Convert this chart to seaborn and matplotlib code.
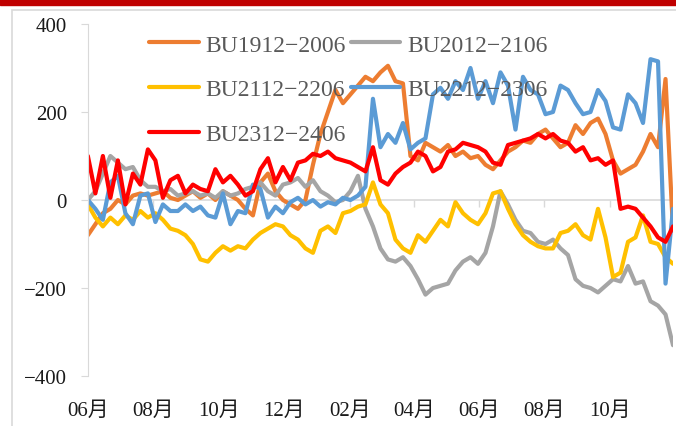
import pandas as pd
import numpy as np
import seaborn as sns
import matplotlib.pyplot as plt
import matplotlib.dates as mdates
from matplotlib.patches import Rectangle


# weekly spread readings, Jun -> Nov of the following year
dates = pd.date_range('2022-06-01', periods=79, freq='7D')

names = ['BU1912\u22122006', 'BU2012\u22122106', 'BU2112\u22122206',
         'BU2212\u22122306', 'BU2312\u22122406']
colors = ['#ED7D31', '#A5A5A5', '#FFC000', '#5B9BD5', '#FF0000']

bu1912 = [-80, -55, -30, -20, 0, -10, 10, 15, 10, 15,
          20, 5, 0, 10, 20, 5, 15, 0, 20, 10,
          0, -20, -35, 40, 60, 20, 0, -10, -20, 0,
          80, 150, 200, 250, 220, 240, 260, 280, 270, 290,
          305, 270, 265, 100, 90, 130, 120, 110, 125, 100,
          110, 95, 100, 80, 70, 90, 110, 120, 135, 130,
          150, 160, 140, 120, 130, 170, 150, 175, 185, 150,
          90, 60, 70, 80, 110, 150, 120, 275, -70]

bu2012 = [0, 20, 60, 100, 85, 70, 75, 45, 30, 30,
          20, 25, 10, 15, 20, 10, 15, 5, 20, 10,
          15, 25, 30, 40, 20, 10, 35, 40, 50, 30,
          45, 20, 10, -5, 0, 20, 55, -20, -60, -110,
          -135, -140, -130, -150, -180, -215, -200, -195, -190, -160,
          -140, -130, -145, -120, -60, 20, -10, -45, -70, -75,
          -95, -100, -90, -110, -125, -180, -195, -200, -210, -195,
          -180, -185, -150, -190, -185, -230, -240, -260, -330]

bu2112 = [-10, -40, -60, -40, -55, -35, -45, -25, -40, -30,
          -45, -65, -70, -80, -100, -135, -140, -120, -105, -115,
          -105, -110, -90, -75, -65, -55, -60, -80, -90, -110,
          -120, -70, -60, -75, -30, -25, -15, -10, 40, -10,
          -30, -90, -110, -120, -80, -95, -70, -45, -60, -5,
          -30, -45, -55, -30, 15, 20, -20, -55, -80, -95,
          -105, -110, -110, -75, -70, -55, -80, -90, -20, -85,
          -175, -165, -95, -85, -35, -95, -100, -130, -145]

bu2212 = [0, -20, -45, 40, 55, -30, -55, 10, 15, -50,
          -10, -25, -25, -10, -25, -15, -35, -40, 15, -55,
          -25, -30, 35, 25, -40, -15, -30, -5, 5, -10,
          0, -15, -5, -10, 5, 0, 10, 30, 230, 120,
          150, 130, 175, 115, 130, 140, 240, 255, 230, 270,
          250, 300, 230, 270, 220, 290, 260, 160, 280, 250,
          240, 195, 200, 260, 250, 220, 195, 200, 250, 225,
          165, 160, 240, 220, 175, 320, 315, -190, -20]

bu2312 = [100, 15, 100, 5, 90, -10, 60, 35, 115, 90,
          5, 45, 55, 15, 35, 25, 20, 70, 40, 55,
          35, 10, 20, 70, 95, 40, 75, 45, 85, 90,
          105, 100, 110, 95, 90, 85, 75, 65, 120, 45,
          35, 60, 75, 85, 110, 100, 65, 75, 110, 115,
          130, 125, 120, 110, 85, 80, 125, 130, 135, 140,
          150, 140, 150, 135, 130, 110, 120, 90, 95, 80,
          90, -20, -15, -20, -40, -60, -85, -95, -60]

yticks = [-400, -200, 0, 200, 400]
xticks = pd.date_range('2022-06-01', '2023-10-01', freq='2MS')

df = pd.DataFrame({
    'date': np.tile(dates, 5),
    'spread': np.concatenate([bu1912, bu2012, bu2112, bu2212, bu2312]),
    'contract': np.repeat(names, len(dates)),
})

sns.set_style('white')
plt.rcParams['font.family'] = ['Liberation Serif', 'Noto Sans CJK SC']
plt.rcParams['axes.unicode_minus'] = True

fig, ax = plt.subplots(figsize=(6.76, 4.27), dpi=100)
fig.subplots_adjust(left=0.130, right=0.9956, top=0.9415, bottom=0.117)

# top red bar + light frame
fig.patches.append(Rectangle((0, 1 - 6 / 427), 1, 6 / 427, transform=fig.transFigure,
                             color='#C00000', zorder=0))
fig.patches.append(Rectangle((12 / 676, -0.1), 1.2, 1.1 - 11 / 427, transform=fig.transFigure,
                             fill=False, edgecolor='#D9D9D9', lw=1.2, zorder=0))

ax.axhline(0, color='#D9D9D9', lw=1.2, zorder=0)
ax.plot(xticks, np.zeros(len(xticks)), ls='none', marker=3, ms=5,
        color='#D9D9D9', zorder=0)

sns.lineplot(data=df, x='date', y='spread', hue='contract', hue_order=names,
             palette=colors, linewidth=3.0, ax=ax)

ax.set_xlim(dates[0], dates[-1])
ax.set_ylim(-400, 400)
ax.set_yticks(yticks)
ax.set_xticks(xticks)
ax.xaxis.set_major_formatter(mdates.DateFormatter('%m月'))
ax.set_xlabel('')
ax.set_ylabel('')

for s in ['top', 'right', 'bottom']:
    ax.spines[s].set_visible(False)
ax.spines['left'].set_color('#D9D9D9')
ax.tick_params(axis='x', length=0, pad=18, labelsize=15, labelcolor='#1a1a1a')
ax.tick_params(axis='y', left=True, length=5, color='#D9D9D9', pad=10,
               labelsize=15, labelcolor='#1a1a1a')

handles, labels = ax.get_legend_handles_labels()
order = [0, 2, 4, 1, 3]
ax.legend([handles[i] for i in order], [labels[i] for i in order], ncol=2,
          loc='upper left', bbox_to_anchor=(149 / 676, 1 - 35 / 427),
          bbox_transform=fig.transFigure, frameon=False, fontsize=17,
          handlelength=2.1, handletextpad=0.3, columnspacing=0.2,
          labelspacing=0.98, borderpad=0, borderaxespad=0, labelcolor='#595959')

fig.savefig('out.png', dpi=100)
